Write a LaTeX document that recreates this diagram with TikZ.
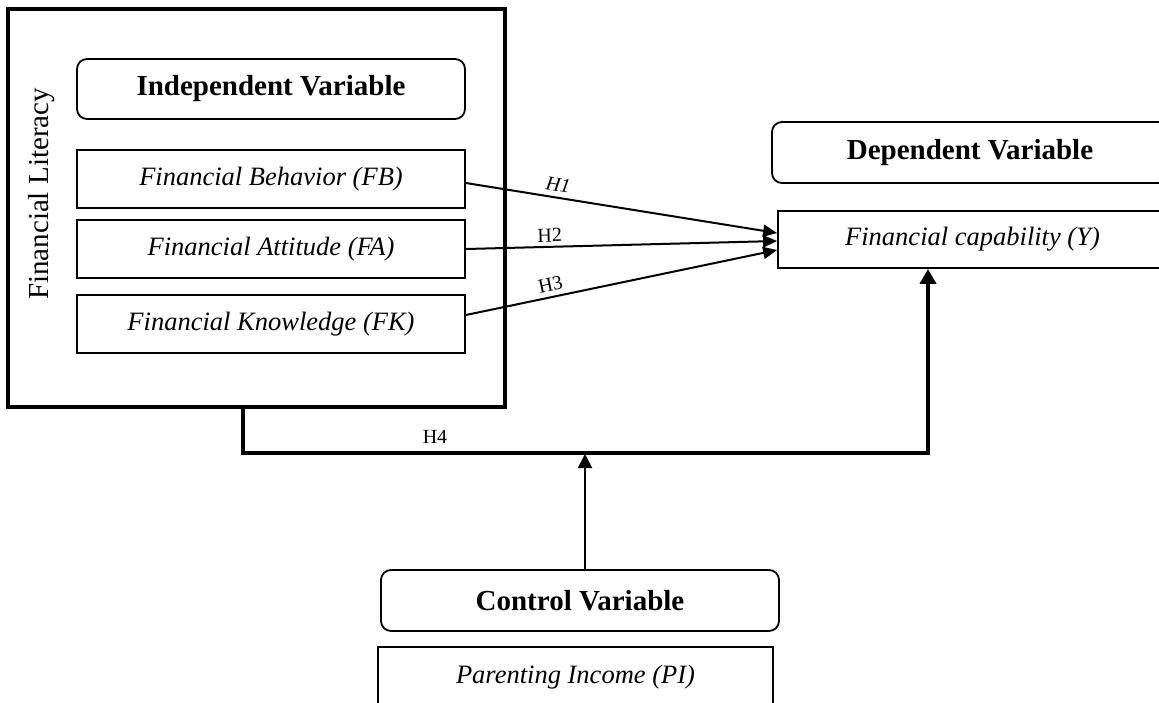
\documentclass[tikz,border=0pt]{standalone}
\usepackage{fontspec}
\setmainfont{Liberation Serif}
\usetikzlibrary{arrows.meta,calc}
\tikzset{
  varbox/.style={draw, line width=1.8pt, rounded corners=10pt, inner sep=0pt, font=\fontsize{29}{32}\selectfont\bfseries},
  itembox/.style={draw, line width=1.8pt, inner sep=0pt, font=\fontsize{26.5}{30}\selectfont\itshape},
  outerbox/.style={draw, line width=4pt, inner sep=0pt},
  hlabel/.style={font=\fontsize{20}{22}\selectfont, inner sep=2pt},
  thinarrow/.style={line width=2pt, -{Triangle[length=14pt,width=12pt]}},
  thickarrow/.style={line width=4pt, -{Triangle[length=15pt,width=16pt]}},
}
\begin{document}
\begin{tikzpicture}[x=1pt,y=-1pt]
\useasboundingbox (0,0) rectangle (1159,702);
\clip (0,0) rectangle (1159,702);
\fill[white] (0,0) rectangle (1159,702);

% outer Financial Literacy box
\node[outerbox, minimum width=497pt, minimum height=398pt] (lit) at (256.5,208) {};
\node[rotate=90, font=\fontsize{29}{32}\selectfont] (littext) at (42,194) {Financial Literacy};

\node[varbox, minimum width=388pt, minimum height=60pt] (indep) at (271,89) {Independent Variable};
\node[itembox, minimum width=388pt, minimum height=58pt] (fb) at (271,179) {Financial Behavior (FB)};
\node[itembox, minimum width=388pt, minimum height=58pt] (fa) at (271,249) {Financial Attitude (FA)};
\node[itembox, minimum width=388pt, minimum height=58pt] (fk) at (271,324) {Financial Knowledge (FK)};

\node[varbox, minimum width=396pt, minimum height=61pt] (dep) at (970,152.5) {Dependent Variable};
\node[itembox, minimum width=389pt, minimum height=57pt] (cap) at (972.5,239.5) {Financial capability (Y)};

\node[varbox, minimum width=398pt, minimum height=61pt] (ctrl) at (580,600.5) {Control Variable};
\node[itembox, minimum width=395pt, minimum height=61pt] (pi) at (575.5,677.5) {Parenting Income (PI)};

% hypotheses arrows
\draw[thinarrow] ([yshift=-4pt]fb.east) -- node[hlabel, pos=0.29, sloped, above=3pt] (h1) {\itshape H1} ([yshift=6.5pt]cap.west);
\draw[thinarrow] ([yshift=0pt]fa.east) -- node[hlabel, pos=0.27, sloped, above=2pt] (h2) {H2} ([yshift=-1.5pt]cap.west);
\draw[thinarrow] ([yshift=9pt]fk.east) -- node[hlabel, pos=0.28, sloped, above=3pt] (h3) {H3} ([yshift=-10.5pt]cap.west);

% moderation path
\coordinate (bus) at (585,453);
\draw[thickarrow] ([xshift=-13.5pt]lit.south) |- (bus) -| ([xshift=-44.5pt]cap.south);
\node[hlabel] (h4) at (435,437) {H4};
\draw[thinarrow, -{Triangle[length=14pt,width=14pt]}] (bus |- ctrl.north) -- ([yshift=-1pt]bus);
\end{tikzpicture}
\end{document}
